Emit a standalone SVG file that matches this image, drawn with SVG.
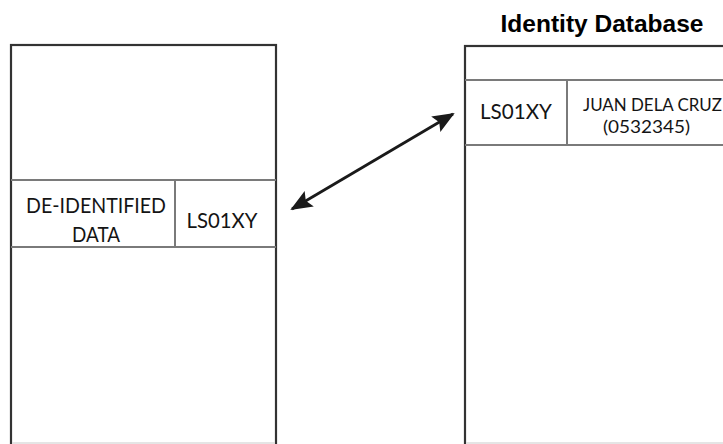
<svg xmlns="http://www.w3.org/2000/svg" width="723" height="444" viewBox="0 0 723 444">
  <style>
    .frame { fill: #ffffff; stroke: #333333; stroke-width: 2.2; }
    .div { stroke: #7a7a7a; stroke-width: 2; fill: none; }
    .edge { stroke: #dddddd; stroke-width: 1.5; }
    .cell { font-family: Lato, "Open Sans", "Noto Sans", sans-serif; fill: #141414; }
    .title { font-family: "Liberation Sans", Arial, sans-serif; font-weight: bold; font-size: 24.5px; fill: #000000; }
    .conn { stroke: #1a1a1a; stroke-width: 2.8; fill: none; }
  </style>
  <defs>
    <marker id="head" viewBox="0 0 22 18" refX="20" refY="9" markerWidth="22" markerHeight="18" markerUnits="userSpaceOnUse" orient="auto-start-reverse">
      <path d="M0,0 L22,9 L0,18 L4,9 z" fill="#1a1a1a"/>
    </marker>
  </defs>
  <rect width="723" height="444" fill="#ffffff"/>

  <g id="deidentified-table">
    <rect class="frame" x="11" y="45" width="265" height="410"/>
    <line class="div" x1="11" y1="180" x2="276" y2="180"/>
    <line class="div" x1="11" y1="247" x2="276" y2="247"/>
    <line class="div" x1="175" y1="180" x2="175" y2="247"/>
    <line class="edge" x1="12" y1="443" x2="275" y2="443"/>
    <text class="cell" x="96" y="213" font-size="21" text-anchor="middle" textLength="140" lengthAdjust="spacingAndGlyphs">DE-IDENTIFIED</text>
    <text class="cell" x="96" y="242" font-size="21" text-anchor="middle" textLength="48" lengthAdjust="spacingAndGlyphs">DATA</text>
    <text class="cell" x="222" y="228" font-size="22" text-anchor="middle" textLength="71" lengthAdjust="spacingAndGlyphs">LS01XY</text>
  </g>

  <g id="identity-database">
    <text class="title" x="602" y="32" text-anchor="middle">Identity Database</text>
    <rect class="frame" x="465" y="46" width="270" height="410"/>
    <line class="div" x1="465" y1="80" x2="723" y2="80"/>
    <line class="div" x1="465" y1="145" x2="723" y2="145"/>
    <line class="div" x1="567" y1="80" x2="567" y2="145"/>
    <line class="edge" x1="466" y1="443" x2="723" y2="443"/>
    <text class="cell" x="516" y="119" font-size="22" text-anchor="middle" textLength="72" lengthAdjust="spacingAndGlyphs">LS01XY</text>
    <text class="cell" x="583" y="111" font-size="17" textLength="139" lengthAdjust="spacingAndGlyphs">JUAN DELA CRUZ</text>
    <text class="cell" x="603" y="133" font-size="17" textLength="87" lengthAdjust="spacingAndGlyphs">(0532345)</text>
  </g>

  <g id="connectors">
    <line class="conn" x1="292" y1="209" x2="453" y2="114" marker-start="url(#head)" marker-end="url(#head)"/>
  </g>
</svg>
